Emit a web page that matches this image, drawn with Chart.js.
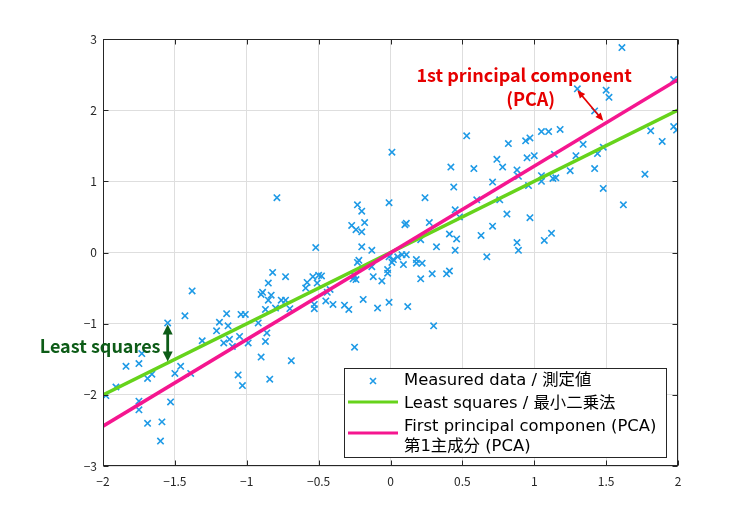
<!DOCTYPE html>
<html><head><meta charset="utf-8">
<script src="https://cdn.jsdelivr.net/npm/chart.js@4/dist/chart.umd.min.js"></script>
<style>html,body{margin:0;padding:0;background:#fff}#wrap{width:736px;height:525px}</style>
</head><body><div id="wrap"><canvas id="c" width="736" height="525"></canvas></div>
<script>
// ---- data ----
const measuredX = [
-1.38,-1.43,-1.55,-1.73,-1.75,-1.84,-1.46,-1.50,-1.66,-1.69,-1.39,-1.91,-1.98,-1.75,-1.75,-1.53,-1.69,-1.59,-1.60,
-1.31,-1.19,-1.14,-1.21,-1.13,-1.16,-1.12,-1.10,-1.05,-1.04,-1.01,-0.99,-1.06,-1.03,-0.82,-0.73,-0.85,-0.89,-0.90,-0.83,-0.85,-0.76,-0.73,-0.87,-0.80,-0.70,-0.92,-0.86,-0.87,-0.90,-0.69,-0.84,-0.79,
-0.52,-0.54,-0.50,-0.48,-0.58,-0.59,-0.51,-0.44,-0.42,-0.53,-0.53,-0.45,-0.40,-0.32,-0.29,
-0.23,-0.20,-0.01,-0.18,-0.27,-0.24,-0.20,-0.20,-0.13,-0.22,-0.23,-0.01,0.02,0.01,0.05,-0.13,-0.02,-0.02,-0.12,-0.06,-0.25,-0.24,-0.26,-0.19,-0.09,-0.01,-0.25,0.01,
0.53,0.42,0.58,0.82,0.74,0.78,0.88,0.89,0.44,0.71,0.24,0.60,0.76,0.45,0.48,0.81,0.10,0.11,0.27,0.71,0.41,0.46,0.63,0.21,0.32,0.45,0.88,0.89,0.67,0.08,0.11,0.09,0.18,0.18,0.22,0.21,0.29,0.39,0.41,0.12,0.30,
1.61,1.97,1.30,1.50,1.52,1.42,0.94,0.97,1.05,1.10,1.18,0.95,1.00,1.14,1.34,1.29,1.44,1.48,1.25,1.42,1.05,1.05,1.13,1.15,0.96,1.48,1.81,1.89,1.97,1.99,1.77,1.62,0.97,1.07,1.12];
const measuredY = [
-0.54,-0.89,-0.99,-1.42,-1.56,-1.60,-1.60,-1.70,-1.71,-1.77,-1.70,-1.89,-2.01,-2.09,-2.21,-2.10,-2.40,-2.38,-2.65,
-1.24,-0.98,-0.86,-1.10,-1.03,-1.27,-1.22,-1.32,-1.18,-0.87,-0.87,-1.27,-1.72,-1.87,-0.28,-0.34,-0.43,-0.56,-0.59,-0.60,-0.67,-0.67,-0.67,-0.80,-0.78,-0.79,-0.99,-1.13,-1.25,-1.47,-1.52,-1.78,0.77,
0.07,-0.34,-0.32,-0.33,-0.42,-0.50,-0.43,-0.56,-0.52,-0.73,-0.79,-0.68,-0.73,-0.74,-0.80,
0.67,0.58,0.70,0.42,0.38,0.32,0.29,0.08,0.03,-0.11,-0.14,-0.06,-0.10,-0.14,-0.06,-0.20,-0.24,-0.29,-0.34,-0.40,-0.33,-0.38,-0.37,-0.66,-0.78,-0.70,-1.33,1.41,
1.64,1.20,1.18,1.53,1.31,1.20,1.16,1.07,0.92,0.99,0.77,0.74,0.74,0.60,0.50,0.54,0.39,0.41,0.42,0.37,0.26,0.19,0.24,0.18,0.08,0.03,0.14,0.03,-0.06,-0.03,-0.03,-0.17,-0.10,-0.15,-0.15,-0.37,-0.30,-0.30,-0.26,-0.76,-1.03,
2.88,2.43,2.30,2.28,2.18,1.99,1.57,1.61,1.70,1.70,1.73,1.33,1.36,1.38,1.52,1.36,1.39,1.48,1.15,1.18,1.08,1.00,1.04,1.05,0.94,0.90,1.71,1.56,1.77,1.72,1.10,0.67,0.49,0.17,0.27];
const lsqX = [-2, 2];
const lsqY = [-2.0, 2.0];
const pcaX = [-2, 2];
const pcaY = [-2.44, 2.43];
const xTicks = [-2, -1.5, -1, -0.5, 0, 0.5, 1, 1.5, 2];
const yTicks = [-3, -2, -1, 0, 1, 2, 3];
const seriesLabels = ['Measured data / 測定値', 'Least squares / 最小二乗法', 'First principal componen (PCA)\n第1主成分 (PCA)'];
// annotations (data units)
const pcaNote = {lines: ['1st principal component', '(PCA)'], x: [0.93, 0.975], y: [2.49, 2.16]};
const pcaArrow = {x1: 1.30, y1: 2.28, x2: 1.48, y2: 1.85};
const lsqNote = {text: 'Least squares', x: -2.02, y: -1.32};
const lsqArrow = {x: -1.55, y1: -1.01, y2: -1.53};

// ---- styles ----
const BLUE = '#1e9ae6', GREEN = '#66d31b', PINK = '#f5168f', RED = '#e60000', DKGREEN = '#0d5c17', AXIS = '#262626';
const TICKFONT = '"Noto Sans CJK JP", "DejaVu Sans", sans-serif';

const fmt = v => (v < 0 ? '\u2212' : '') + String(Math.abs(Math.round(v * 100) / 100));

function arrow(ctx, x1, y1, x2, y2, color, lw, hl, hw) {
  const ang = Math.atan2(y2 - y1, x2 - x1);
  ctx.strokeStyle = color; ctx.fillStyle = color; ctx.lineWidth = lw;
  const ux = Math.cos(ang), uy = Math.sin(ang);
  ctx.beginPath();
  ctx.moveTo(x1 + ux * hl * 0.8, y1 + uy * hl * 0.8);
  ctx.lineTo(x2 - ux * hl * 0.8, y2 - uy * hl * 0.8);
  ctx.stroke();
  const head = (px, py, dx, dy) => {
    ctx.beginPath();
    ctx.moveTo(px, py);
    ctx.lineTo(px - dx * hl - dy * hw, py - dy * hl + dx * hw);
    ctx.lineTo(px - dx * hl + dy * hw, py - dy * hl - dx * hw);
    ctx.closePath(); ctx.fill();
  };
  head(x2, y2, ux, uy);
  head(x1, y1, -ux, -uy);
}

const overlay = {
  id: 'overlay',
  afterDraw(chart) {
    const {ctx, chartArea: a, scales: {x, y}} = chart;
    ctx.save();
    // axes box
    ctx.strokeStyle = AXIS; ctx.lineWidth = 1;
    const L = Math.round(a.left) + 0.5, R = Math.round(a.right) - 0.5, T = Math.round(a.top) + 0.5, B = Math.round(a.bottom) - 0.5;
    ctx.strokeRect(L, T, R - L, B - T);
    // inward ticks
    ctx.beginPath();
    xTicks.forEach(v => {
      const p = Math.round(x.getPixelForValue(v)) + 0.5;
      ctx.moveTo(p, B); ctx.lineTo(p, B - 5);
      ctx.moveTo(p, T); ctx.lineTo(p, T + 5);
    });
    yTicks.forEach(v => {
      const p = Math.round(y.getPixelForValue(v)) + 0.5;
      ctx.moveTo(L, p); ctx.lineTo(L + 5, p);
      ctx.moveTo(R, p); ctx.lineTo(R - 5, p);
    });
    ctx.stroke();

    // annotations
    ctx.textAlign = 'center'; ctx.textBaseline = 'middle';
    ctx.font = 'bold 18px "Noto Sans CJK JP", sans-serif';
    ctx.fillStyle = RED;
    pcaNote.lines.forEach((t, i) => ctx.fillText(t, x.getPixelForValue(pcaNote.x[i]), y.getPixelForValue(pcaNote.y[i])));
    arrow(ctx, x.getPixelForValue(pcaArrow.x1), y.getPixelForValue(pcaArrow.y1), x.getPixelForValue(pcaArrow.x2), y.getPixelForValue(pcaArrow.y2), RED, 1.6, 8, 3.5);
    ctx.fillStyle = DKGREEN;
    ctx.fillText(lsqNote.text, x.getPixelForValue(lsqNote.x), y.getPixelForValue(lsqNote.y));
    const ax = x.getPixelForValue(lsqArrow.x);
    arrow(ctx, ax, y.getPixelForValue(lsqArrow.y1), ax, y.getPixelForValue(lsqArrow.y2), DKGREEN, 2.8, 10, 5);

    // legend
    const bx = 344, by = 368, bw = 322, bh = 89;
    ctx.fillStyle = '#fff';
    ctx.fillRect(bx, by, bw, bh);
    ctx.strokeStyle = AXIS; ctx.lineWidth = 1;
    ctx.strokeRect(bx + 0.5, by + 0.5, bw, bh);
    ctx.textAlign = 'left';
    ctx.font = '16.4px "DejaVu Sans", "Noto Sans CJK JP", sans-serif';
    ctx.fillStyle = '#000';
    const ds = chart.data.datasets;
    // row 1 marker
    ctx.strokeStyle = BLUE; ctx.lineWidth = 1.6;
    ctx.beginPath();
    ctx.moveTo(370, 378); ctx.lineTo(376, 384); ctx.moveTo(376, 378); ctx.lineTo(370, 384);
    ctx.stroke();
    ctx.fillStyle = '#000';
    ctx.fillText(ds[0].label, 404, 381);
    // row 2
    ctx.strokeStyle = GREEN; ctx.lineWidth = 3;
    ctx.beginPath(); ctx.moveTo(348, 402); ctx.lineTo(398, 402); ctx.stroke();
    ctx.fillText(ds[1].label, 404, 404);
    // row 3
    ctx.strokeStyle = PINK; ctx.lineWidth = 3;
    ctx.beginPath(); ctx.moveTo(348, 433); ctx.lineTo(398, 433); ctx.stroke();
    const l3 = ds[2].label.split('\n');
    ctx.fillText(l3[0], 404, 427);
    ctx.fillText(l3[1], 404, 447);
    ctx.restore();
  }
};

new Chart(document.getElementById('c'), {
  type: 'scatter',
  data: {
    datasets: [
      {label: seriesLabels[0], data: measuredX.map((v, i) => ({x: v, y: measuredY[i]})),
       pointStyle: 'crossRot', radius: 4.5, borderColor: BLUE, backgroundColor: BLUE, borderWidth: 1.6, order: 3},
      {label: seriesLabels[1], type: 'line', data: lsqX.map((v, i) => ({x: v, y: lsqY[i]})),
       borderColor: GREEN, borderWidth: 3.5, pointRadius: 0, fill: false, order: 2},
      {label: seriesLabels[2], type: 'line', data: pcaX.map((v, i) => ({x: v, y: pcaY[i]})),
       borderColor: PINK, borderWidth: 3.5, pointRadius: 0, fill: false, order: 1}
    ]
  },
  options: {
    responsive: false, animation: false, devicePixelRatio: 1,
    layout: {padding: {left: 0, top: 39, right: 58, bottom: 0}},
    plugins: {legend: {display: false}, tooltip: {enabled: false}},
    scales: {
      x: {type: 'linear', min: -2, max: 2,
          afterBuildTicks: s => { s.ticks = xTicks.map(v => ({value: v})); },
          ticks: {padding: 8, color: AXIS, font: {family: TICKFONT, size: 12}, callback: v => fmt(v), maxRotation: 0, autoSkip: false},
          grid: {color: '#dedede', drawTicks: false}, border: {display: false},
          afterFit: s => { s.height = 59; }},
      y: {type: 'linear', min: -3, max: 3,
          afterBuildTicks: s => { s.ticks = yTicks.map(v => ({value: v})); },
          ticks: {padding: 6, color: AXIS, font: {family: TICKFONT, size: 12}, callback: v => fmt(v), autoSkip: false},
          grid: {color: '#dedede', drawTicks: false}, border: {display: false},
          afterFit: s => { s.width = 103; }}
    }
  },
  plugins: [overlay]
});
</script></body></html>
